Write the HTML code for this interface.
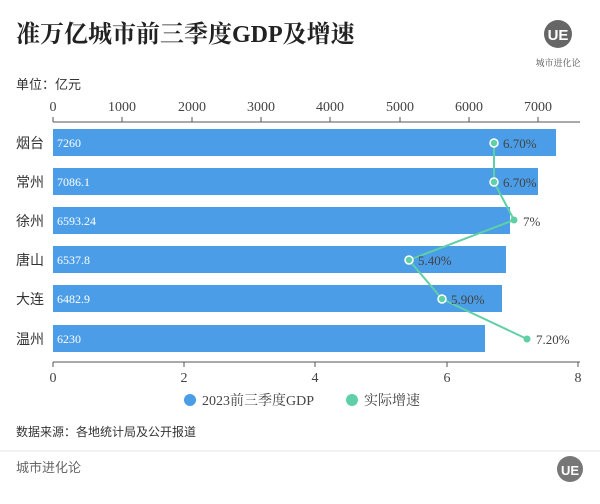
<!DOCTYPE html><html><head><meta charset="utf-8"><style>
body{margin:0;width:600px;height:499px;background:#fff;overflow:hidden;font-family:"Liberation Serif","Noto Serif CJK SC",serif;}
</style></head><body>
<svg width="600" height="499" xmlns="http://www.w3.org/2000/svg" font-family="Liberation Serif, Noto Serif CJK SC, serif">
<text x="16" y="42" font-size="24" font-weight="bold" fill="#222">准万亿城市前三季度GDP及增速</text>
<circle cx="558" cy="34" r="14" fill="#666"/>
<text x="558" y="40" font-size="15" fill="#fff" text-anchor="middle" font-family="Liberation Sans, sans-serif" font-weight="bold">UE</text>
<text x="558" y="66" font-size="9" fill="#555" text-anchor="middle">城市进化论</text>
<text x="16" y="89" font-size="13" fill="#333" font-family="Liberation Sans, Noto Sans CJK SC, sans-serif">单位：亿元</text>
<g font-size="14" fill="#444" text-anchor="middle">
<text x="53" y="111">0</text><text x="122" y="111">1000</text><text x="192" y="111">2000</text><text x="261" y="111">3000</text><text x="330" y="111">4000</text><text x="400" y="111">5000</text><text x="469" y="111">6000</text><text x="538" y="111">7000</text>
</g>
<line x1="53" y1="122" x2="580" y2="122" stroke="#555"/>
<g stroke="#555"><line x1="53" y1="117" x2="53" y2="122"/><line x1="122" y1="117" x2="122" y2="122"/><line x1="192" y1="117" x2="192" y2="122"/><line x1="261" y1="117" x2="261" y2="122"/><line x1="330" y1="117" x2="330" y2="122"/><line x1="400" y1="117" x2="400" y2="122"/><line x1="469" y1="117" x2="469" y2="122"/><line x1="538" y1="117" x2="538" y2="122"/></g>
<g fill="#4a9de6">
<rect x="53" y="129" width="503" height="27"/>
<rect x="53" y="168" width="485" height="27"/>
<rect x="53" y="207" width="457" height="27"/>
<rect x="53" y="246" width="453" height="27"/>
<rect x="53" y="285" width="449" height="27"/>
<rect x="53" y="325" width="432" height="27"/>
</g>
<g font-size="14" fill="#333" font-family="Liberation Sans, Noto Sans CJK SC, sans-serif">
<text x="16" y="148">烟台</text><text x="16" y="187">常州</text><text x="16" y="226">徐州</text><text x="16" y="265">唐山</text><text x="16" y="304">大连</text><text x="16" y="344">温州</text>
</g>
<g font-size="12" fill="#fff">
<text x="57" y="147">7260</text><text x="57" y="186">7086.1</text><text x="57" y="225">6593.24</text><text x="57" y="264">6537.8</text><text x="57" y="303">6482.9</text><text x="57" y="343">6230</text>
</g>
<line x1="53" y1="362" x2="580" y2="362" stroke="#555"/>
<g stroke="#555"><line x1="53" y1="362" x2="53" y2="367"/><line x1="184" y1="362" x2="184" y2="367"/><line x1="315" y1="362" x2="315" y2="367"/><line x1="447" y1="362" x2="447" y2="367"/><line x1="578" y1="362" x2="578" y2="367"/></g>
<g font-size="14" fill="#444" text-anchor="middle">
<text x="53" y="382">0</text><text x="184" y="382">2</text><text x="315" y="382">4</text><text x="447" y="382">6</text><text x="578" y="382">8</text>
</g>
<polyline points="494,143 494,182 514,220 409,260 442,299 527,339" fill="none" stroke="#5fd0a5" stroke-width="2"/>
<g fill="#5fd0a5" stroke="#fff" stroke-width="1.5">
<circle cx="494" cy="143" r="4"/><circle cx="494" cy="182" r="4"/><circle cx="409" cy="260" r="4"/><circle cx="442" cy="299" r="4"/>
</g>
<circle cx="514" cy="220" r="3.5" fill="#5fd0a5"/><circle cx="527" cy="339" r="3.5" fill="#5fd0a5"/>
<g font-size="13" fill="#444">
<text x="503" y="148">6.70%</text><text x="503" y="187">6.70%</text><text x="523" y="226">7%</text><text x="418" y="265">5.40%</text><text x="451" y="304">5.90%</text><text x="536" y="344">7.20%</text>
</g>
<circle cx="190" cy="400" r="6" fill="#4a9de6"/>
<text x="202" y="405" font-size="14" fill="#444">2023前三季度GDP</text>
<circle cx="352" cy="400" r="6" fill="#5fd0a5"/>
<text x="364" y="405" font-size="14" fill="#444">实际增速</text>
<text x="16" y="436" font-size="12" fill="#333" font-family="Liberation Sans, Noto Sans CJK SC, sans-serif">数据来源：各地统计局及公开报道</text>
<line x1="0" y1="451" x2="600" y2="451" stroke="#e5e5e5"/>
<text x="16" y="472" font-size="13" fill="#666" font-family="Liberation Sans, Noto Sans CJK SC, sans-serif">城市进化论</text>
<circle cx="570" cy="469" r="13" fill="#777"/>
<text x="570" y="475" font-size="13" fill="#fff" text-anchor="middle" font-family="Liberation Sans, sans-serif" font-weight="bold">UE</text>
</svg>
</body></html>
